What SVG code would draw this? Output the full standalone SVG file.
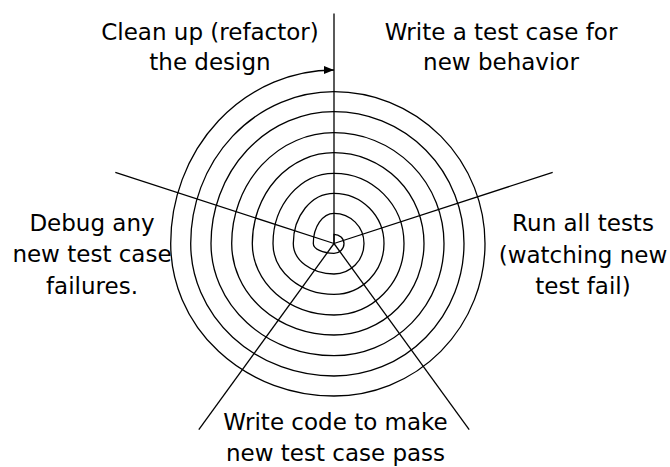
<svg xmlns="http://www.w3.org/2000/svg" width="670" height="467" viewBox="0 0 670 467">
<style>
  .ln { stroke: #000; stroke-width: 1.3; fill: none; }
  .lbl { font-family: "DejaVu Sans", Verdana, sans-serif; font-size: 23px; fill: #000; text-anchor: middle; }
</style>
<defs>
  <marker id="arrow" markerUnits="userSpaceOnUse" markerWidth="10" markerHeight="8" refX="10" refY="4" orient="auto">
    <path d="M0,0 L10,4 L0,8 z" fill="#000"/>
  </marker>
</defs>
<rect width="670" height="467" fill="#fff"/>
<g id="connectors">
  <line class="ln" x1="334" y1="243.5" x2="334" y2="13.5"/>
  <line class="ln" x1="334" y1="243.5" x2="552.7" y2="172.4"/>
  <line class="ln" x1="334" y1="243.5" x2="469.2" y2="429.6"/>
  <line class="ln" x1="334" y1="243.5" x2="198.8" y2="429.6"/>
  <line class="ln" x1="334" y1="243.5" x2="115.3" y2="172.4"/>
  <path id="spiral" class="ln" marker-end="url(#arrow)" d="M334,243.5 L334,234.3
A10,9.2 0 0 1 344,243.5
A10,9.8 0 0 1 334,253.3
A20.7,9.8 0 0 1 313.3,243.5
A20.7,30.2 0 0 1 334,213.3
A30,30.2 0 0 1 364,243.5
A30,30.5 0 0 1 334,274
A40.7,30.5 0 0 1 293.3,243.5
A40.7,50.2 0 0 1 334,193.3
A50,50.2 0 0 1 384,243.5
A50,50.8 0 0 1 334,294.3
A61,50.8 0 0 1 273,243.5
A61,70.2 0 0 1 334,173.3
A70,70.2 0 0 1 404,243.5
A70,71.5 0 0 1 334,315
A81.7,71.5 0 0 1 252.3,243.5
A81.7,90.8 0 0 1 334,152.7
A90,90.8 0 0 1 424,243.5
A90,91.5 0 0 1 334,335
A102.3,91.5 0 0 1 231.7,243.5
A102.3,110.8 0 0 1 334,132.7
A110,110.8 0 0 1 444,243.5
A110,112.2 0 0 1 334,355.7
A123,112.2 0 0 1 211,243.5
A123,131.8 0 0 1 334,111.7
A130,131.8 0 0 1 464,243.5
A130,132.5 0 0 1 334,376
A143.3,132.5 0 0 1 190.7,243.5
A143.3,151.8 0 0 1 334,91.7
A151,151.8 0 0 1 485,243.5
A151,152.5 0 0 1 334,396
A163.3,152.5 0 0 1 170.7,243.5
A163.3,173.5 0 0 1 334,70"/>
</g>
<g id="refactor">
  <text class="lbl" x="210" y="40">Clean up (refactor)</text>
  <text class="lbl" x="210" y="70">the design</text>
</g>
<g id="write-test">
  <text class="lbl" x="501" y="40">Write a test case for</text>
  <text class="lbl" x="501" y="70">new behavior</text>
</g>
<g id="run-tests">
  <text class="lbl" x="583" y="231">Run all tests</text>
  <text class="lbl" x="583" y="262.5">(watching new</text>
  <text class="lbl" x="583" y="294">test fail)</text>
</g>
<g id="write-code">
  <text class="lbl" x="335.5" y="430">Write code to make</text>
  <text class="lbl" x="335.5" y="461">new test case pass</text>
</g>
<g id="debug">
  <text class="lbl" x="92" y="230.5">Debug any</text>
  <text class="lbl" x="92" y="262">new test case</text>
  <text class="lbl" x="92" y="293.5">failures.</text>
</g>
</svg>
